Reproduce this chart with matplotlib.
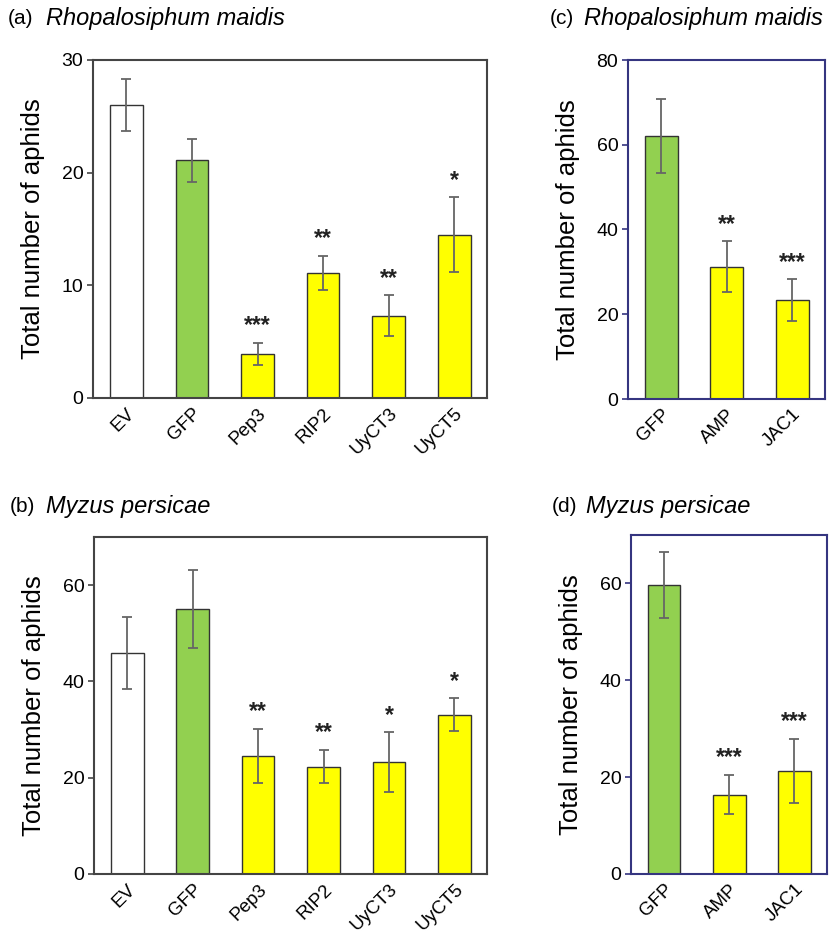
import matplotlib.pyplot as plt

plt.rcParams['font.family'] = ['Liberation Sans', 'DejaVu Sans']

# panel (a) / (b): six constructs
labels_ab = ["EV", "GFP", "Pep3", "RIP2", "UyCT3", "UyCT5"]
colors_ab = ["#FFFFFF", "#92D050", "#FFFF00", "#FFFF00", "#FFFF00", "#FFFF00"]
mean_a = [26.0, 21.1, 3.9, 11.1, 7.3, 14.5]
err_a = [2.3, 1.9, 1.0, 1.5, 1.8, 3.3]
stars_a = ["", "", "***", "**", "**", "*"]

mean_b = [45.9, 55.0, 24.5, 22.3, 23.2, 33.1]
err_b = [7.4, 8.1, 5.7, 3.5, 6.2, 3.4]
stars_b = ["", "", "**", "**", "*", "*"]

# panel (c) / (d): three constructs
labels_cd = ["GFP", "AMP", "JAC1"]
colors_cd = ["#92D050", "#FFFF00", "#FFFF00"]
mean_c = [62.1, 31.2, 23.3]
err_c = [8.7, 6.0, 5.0]
stars_c = ["", "**", "***"]

mean_d = [59.7, 16.4, 21.3]
err_d = [6.8, 4.1, 6.6]
stars_d = ["", "***", "***"]

W, H = 837, 938
fig = plt.figure(figsize=(W / 100, H / 100), dpi=100)


def px_axes(x0, y0, x1, y1):
    return fig.add_axes([x0 / W, 1 - y1 / H, (x1 - x0) / W, (y1 - y0) / H])


def panel(ax, labels, means, errs, colors, stars, ymax, yticks, frame, star_off):
    x = list(range(len(labels)))
    ax.bar(x, means, width=0.5, color=colors, edgecolor="#333333", linewidth=1.0, zorder=2)
    ax.errorbar(x, means, yerr=errs, fmt="none", ecolor="#666666", elinewidth=1.3,
                capsize=3.5, capthick=1.3, zorder=3)
    for xi, m, e, s in zip(x, means, errs, stars):
        if s:
            ax.annotate(s, (xi, m + e), xytext=(0, star_off), textcoords="offset points",
                        ha="center", va="bottom", fontsize=16.5, fontweight="bold", color="#222222")
    ax.set_xlim(-0.51, len(labels) - 0.5)
    ax.set_ylim(0, ymax)
    ax.set_yticks(yticks)
    ax.set_xticks(x)
    ax.set_xticklabels(labels, rotation=45, ha="right", rotation_mode="anchor", fontsize=13.5)
    ax.tick_params(axis="x", length=0, pad=5)
    ax.tick_params(axis="y", direction="out", length=4, width=1.2, color=frame, labelsize=14, pad=3)
    for sp in ax.spines.values():
        sp.set_color(frame)
        sp.set_linewidth(1.5)
    ax.set_ylabel("Total number of aphids", fontsize=18.5, labelpad=12)


gray = "#444444"
navy = "#353580"

ax_a = px_axes(93, 60, 487, 398)
panel(ax_a, labels_ab, mean_a, err_a, colors_ab, stars_a, 30, [0, 10, 20, 30], gray, 4)

ax_b = px_axes(94, 537, 487, 874)
panel(ax_b, labels_ab, mean_b, err_b, colors_ab, stars_b, 70, [0, 20, 40, 60], gray, 4)

ax_c = px_axes(628, 60, 825, 399)
panel(ax_c, labels_cd, mean_c, err_c, colors_cd, stars_c, 80, [0, 20, 40, 60, 80], navy, 4)

ax_d = px_axes(631, 535, 827, 874)
panel(ax_d, labels_cd, mean_d, err_d, colors_cd, stars_d, 70, [0, 20, 40, 60], navy, 4)

# panel titles
titles = [("(a)", "Rhopalosiphum maidis", 8, 46, 18),
          ("(b)", "Myzus persicae", 10, 46, 507),
          ("(c)", "Rhopalosiphum maidis", 550, 584, 18),
          ("(d)", "Myzus persicae", 552, 586, 507)]
for tag, name, xt, xn, yc in titles:
    fig.text(xt / W, 1 - yc / H, tag, fontsize=15, va="center", ha="left")
    fig.text(xn / W, 1 - yc / H, name, fontsize=17, va="center", ha="left", style="italic")

fig.savefig("out.png", dpi=100)
